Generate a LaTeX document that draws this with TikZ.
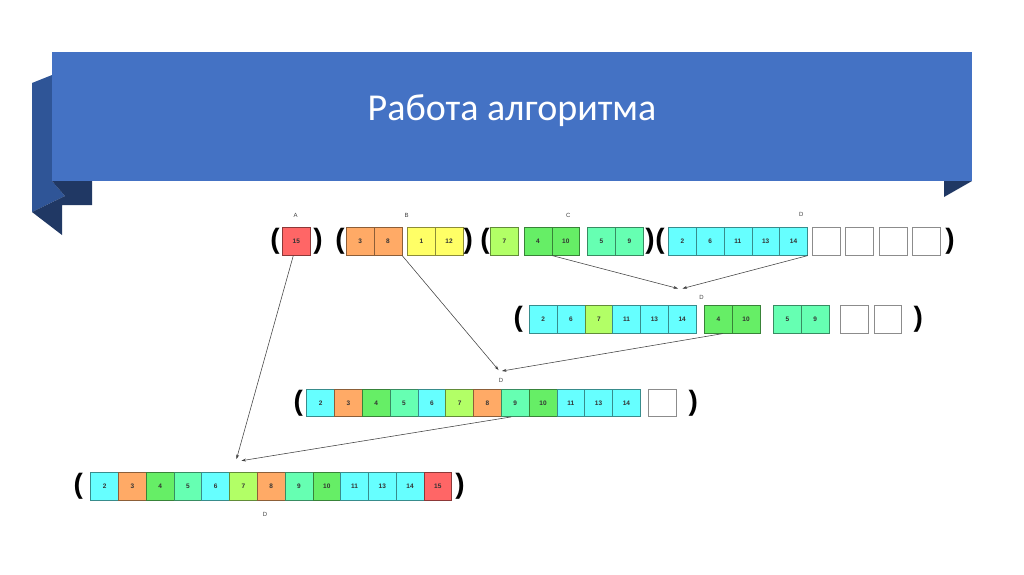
\documentclass[tikz,border=0pt]{standalone}
\usepackage{fontspec}
\setmainfont{Liberation Sans}
\newfontfamily\titlefont{Carlito}
\usetikzlibrary{arrows.meta}
\definecolor{bannerMain}{HTML}{4472C4}
\definecolor{bannerMid}{HTML}{2F5597}
\definecolor{bannerDark}{HTML}{203864}
\definecolor{cRed}{HTML}{FF6666}
\definecolor{cOrange}{HTML}{FFAA66}
\definecolor{cYellow}{HTML}{FFFF66}
\definecolor{cLime}{HTML}{B2FF66}
\definecolor{cGreen}{HTML}{66EE66}
\definecolor{cSea}{HTML}{66FFB2}
\definecolor{cCyan}{HTML}{66FFFF}
\definecolor{cEmpty}{HTML}{FFFFFF}
\tikzset{
  cellbox/.style={draw=#1!55!black, fill=#1, minimum width=27.8pt, minimum height=27.6pt,
    inner sep=0pt, line width=0.6pt, font=\fontsize{6.5}{7}\selectfont\bfseries, text=black!80},
  emptybox/.style={draw=black!45, fill=white, minimum width=27.8pt, minimum height=27.6pt,
    inner sep=0pt, line width=0.6pt},
  paren/.style={inner sep=0pt, font=\fontsize{28}{30}\selectfont\bfseries},
  grplabel/.style={inner sep=0pt, font=\fontsize{6}{7}\selectfont, text=black!75},
  arr/.style={draw=black!75, line width=0.55pt, -{Stealth[length=4.5pt,width=3pt]}}
}
\begin{document}
\begin{tikzpicture}[x=1pt,y=-1pt]
\useasboundingbox (0,0) rectangle (1024,574);
\fill[white] (0,0) rectangle (1024,574);
% banner
\fill[bannerMid] (32,83) -- (52,75) -- (52,181) -- (65,196) -- (32,212) -- cycle;
\fill[bannerDark] (52,181) -- (92,181) -- (92,205) -- (62,205) -- (62,235) -- (32,212) -- (65,196) -- cycle;
\fill[bannerDark] (944,181) -- (972,181) -- (944,197) -- cycle;
\fill[bannerMain] (52,51.5) rectangle (972,181);
\node[text=white, font=\titlefont\fontsize{38}{44}\selectfont] (title) at (512,111) {Работа алгоритма};

% ---------- row 1 ----------
\def\ya{241.5}
\node[paren] (p1a) at (275,\ya) {(};
\node[cellbox=cRed] (a15) at (296.3,\ya) {15};
\node[paren] (p1b) at (318,\ya) {)};
\node[paren] (p1c) at (340,\ya) {(};
\node[cellbox=cOrange] (b3) at (360.2,\ya) {3};
\node[cellbox=cOrange] (b8) at (388,\ya) {8};
\node[cellbox=cYellow] (b1) at (421.3,\ya) {1};
\node[cellbox=cYellow] (b12) at (449.1,\ya) {12};
\node[paren] (p1d) at (468.3,\ya) {)};
\node[paren] (p1e) at (485,\ya) {(};
\node[cellbox=cLime] (c7) at (504.5,\ya) {7};
\node[cellbox=cGreen] (c4) at (538,\ya) {4};
\node[cellbox=cGreen] (c10) at (565.8,\ya) {10};
\node[cellbox=cSea] (c5) at (601.5,\ya) {5};
\node[cellbox=cSea] (c9) at (629.3,\ya) {9};
\node[paren] (p1f) at (650,\ya) {)};
\node[paren] (p1g) at (660,\ya) {(};
\node[cellbox=cCyan] (d2) at (682.3,\ya) {2};
\node[cellbox=cCyan] (d6) at (710.1,\ya) {6};
\node[cellbox=cCyan] (d11) at (737.9,\ya) {11};
\node[cellbox=cCyan] (d13) at (765.7,\ya) {13};
\node[cellbox=cCyan] (d14) at (793.5,\ya) {14};
\node[emptybox] (e1) at (826.2,\ya) {};
\node[emptybox] (e2) at (859.5,\ya) {};
\node[emptybox] (e3) at (892.9,\ya) {};
\node[emptybox] (e4) at (926.2,\ya) {};
\node[paren] (p1h) at (950,\ya) {)};
\node[grplabel] (lA) at (295.7,215) {A};
\node[grplabel] (lB) at (406.7,215) {B};
\node[grplabel] (lC) at (568.3,215) {C};
\node[grplabel] (lD1) at (801.3,214.5) {D};

% ---------- row 2 ----------
\def\yb{319.5}
\node[paren] (p2a) at (518.3,\yb) {(};
\foreach \v/\c [count=\i from 0] in {2/cCyan,6/cCyan,7/cLime,11/cCyan,13/cCyan,14/cCyan}
  \node[cellbox=\c] (r2a\i) at ({543.2+27.8*\i},\yb) {\v};
\node[cellbox=cGreen] (r2g4) at (718.3,\yb) {4};
\node[cellbox=cGreen] (r2g10) at (746.1,\yb) {10};
\node[cellbox=cSea] (r2s5) at (787.3,\yb) {5};
\node[cellbox=cSea] (r2s9) at (815.1,\yb) {9};
\node[emptybox] (r2e1) at (854.2,\yb) {};
\node[emptybox] (r2e2) at (887.7,\yb) {};
\node[paren] (p2b) at (918.3,\yb) {)};
\node[grplabel] (lD2) at (701.5,297) {D};

% ---------- row 3 ----------
\def\yc{402.8}
\node[paren] (p3a) at (298.3,\yc) {(};
\foreach \v/\c [count=\i from 0] in {2/cCyan,3/cOrange,4/cGreen,5/cSea,6/cCyan,7/cLime,8/cOrange,9/cSea,10/cGreen,11/cCyan,13/cCyan,14/cCyan}
  \node[cellbox=\c] (r3c\i) at ({320.6+27.8*\i},\yc) {\v};
\node[emptybox] (r3e1) at (662.5,\yc) {};
\node[paren] (p3b) at (693.3,\yc) {)};
\node[grplabel] (lD3) at (501,380.7) {D};

% ---------- row 4 ----------
\def\yd{486.2}
\node[paren] (p4a) at (78.3,\yd) {(};
\foreach \v/\c [count=\i from 0] in {2/cCyan,3/cOrange,4/cGreen,5/cSea,6/cCyan,7/cLime,8/cOrange,9/cSea,10/cGreen,11/cCyan,13/cCyan,14/cCyan,15/cRed}
  \node[cellbox=\c] (r4c\i) at ({104.6+27.77*\i},\yd) {\v};
\node[paren] (p4b) at (460,\yd) {)};
\node[grplabel] (lD4) at (265,514.3) {D};

% ---------- arrows ----------
\coordinate (t2a) at (678,288.5);
\coordinate (t2b) at (682.5,288.5);
\coordinate (t3) at (498.5,370);
\coordinate (t3b) at (502,371);
\coordinate (t4a) at (236.5,459);
\coordinate (t4b) at (241.5,460.7);
\draw[arr] ([xshift=-3pt]a15.south) -- (t4a);
\draw[arr] (b8.south east) -- (t3);
\draw[arr] (c4.south east) -- (t2a);
\draw[arr] (d14.south east) -- (t2b);
\draw[arr] ([xshift=4.4pt]r2g4.south) -- (t3b);
\draw[arr] ([xshift=-4pt]r3c7.south) -- (t4b);
\end{tikzpicture}
\end{document}
